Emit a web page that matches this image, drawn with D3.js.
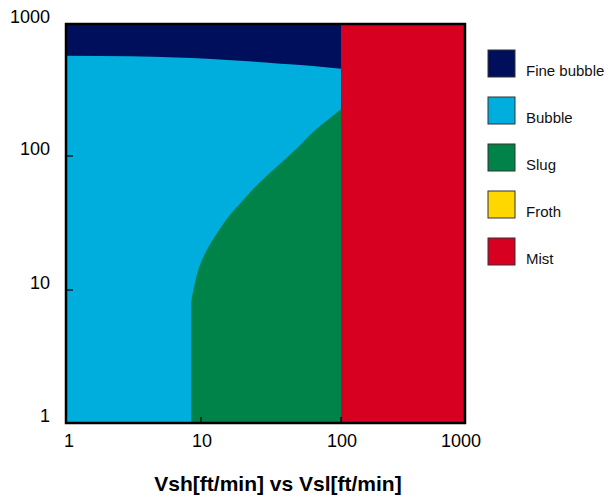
<!DOCTYPE html>
<html>
<head>
<meta charset="utf-8">
<script src="https://cdn.jsdelivr.net/npm/d3@7"></script>
<style>
  html, body { margin: 0; padding: 0; background: #fff; }
  svg { display: block; font-family: "Liberation Sans", Arial, sans-serif; }
</style>
</head>
<body>
<svg id="chart" width="609" height="500"></svg>
<script>
// Flow regime map: superficial gas velocity (Vsh) vs superficial liquid velocity (Vsl)
const xTickValues = [1, 10, 100, 1000];
const yTickValues = [1, 10, 100, 1000];
const regimeNames = ["Fine bubble", "Bubble", "Slug", "Froth", "Mist"];

// Fine bubble / bubble transition (Vsl, Vsh)
const fineBubbleVsl = [1, 3, 6.6, 11, 19, 35, 60, 100];
const fineBubbleVsh = [575, 570, 558, 546, 527, 503, 483, 458];

// Bubble / slug transition (Vsl, Vsh); vertical below the first point
const slugVsl = [8.45, 8.6, 9.0, 9.7, 11.0, 13.0, 15.7, 20.0, 25.9, 34.7, 46.9, 61.8, 85.9, 100];
const slugVsh = [8.0, 9.0, 11.2, 14.9, 19.9, 26.5, 35.2, 47, 62.7, 83.2, 111, 149, 199, 226];

// Bubble region spans Vsl 1..100, mist Vsl 100..1000
const bubbleVsl = [1, 100];
const mistVsl = [100, 1000];
const vshRange = [1, 1000];

const regimeColors = {
  "Fine bubble": "#000f5c",
  "Bubble": "#00aede",
  "Slug": "#008348",
  "Froth": "#ffd700",
  "Mist": "#d80021"
};

const svg = d3.select("#chart");

const x = d3.scaleLog().domain([1, 10, 100, 1000]).range([66, 201, 341, 465]);
const y = d3.scaleLog().domain([1, 10, 100, 1000]).range([423, 290, 156, 24]);

svg.append("clipPath").attr("id", "plotClip")
  .append("rect")
  .attr("x", x(1)).attr("y", y(1000))
  .attr("width", x(1000) - x(1)).attr("height", y(1) - y(1000));

const plot = svg.append("g").attr("clip-path", "url(#plotClip)");

// Bubble background
plot.append("rect")
  .attr("x", x(bubbleVsl[0])).attr("y", y(vshRange[1]))
  .attr("width", x(bubbleVsl[1]) - x(bubbleVsl[0]))
  .attr("height", y(vshRange[0]) - y(vshRange[1]))
  .attr("fill", regimeColors["Bubble"]);

// Fine bubble: above its transition line
const fineArea = d3.area()
  .x(d => x(d[0]))
  .y0(() => y(vshRange[1]))
  .y1(d => y(d[1]))
  .curve(d3.curveMonotoneX);
plot.append("path")
  .datum(d3.zip(fineBubbleVsl, fineBubbleVsh))
  .attr("d", fineArea)
  .attr("fill", regimeColors["Fine bubble"]);

// Slug: below its transition line
const slugArea = d3.area()
  .x(d => x(d[0]))
  .y0(() => y(vshRange[0]))
  .y1(d => y(d[1]))
  .curve(d3.curveCatmullRom.alpha(0.5));
plot.append("path")
  .datum(d3.zip(slugVsl, slugVsh))
  .attr("d", slugArea)
  .attr("fill", regimeColors["Slug"]);

// Mist
plot.append("rect")
  .attr("x", x(mistVsl[0])).attr("y", y(vshRange[1]))
  .attr("width", x(mistVsl[1]) - x(mistVsl[0]))
  .attr("height", y(vshRange[0]) - y(vshRange[1]))
  .attr("fill", regimeColors["Mist"]);

// Inner tick marks
const innerX = xTickValues.filter(v => v > 1 && v < 1000);
const innerY = yTickValues.filter(v => v > 1 && v < 1000);
svg.append("g").selectAll("line").data(innerX).join("line")
  .attr("x1", d => x(d)).attr("x2", d => x(d))
  .attr("y1", y(1)).attr("y2", y(1) - 6)
  .attr("stroke", "#000").attr("stroke-width", 1.2);
svg.append("g").selectAll("line").data(innerY).join("line")
  .attr("y1", d => y(d)).attr("y2", d => y(d))
  .attr("x1", x(1)).attr("x2", x(1) + 7)
  .attr("stroke", "#000").attr("stroke-width", 1.2);

// Frame
svg.append("rect")
  .attr("x", x(1)).attr("y", y(1000))
  .attr("width", x(1000) - x(1)).attr("height", y(1) - y(1000))
  .attr("fill", "none").attr("stroke", "#000").attr("stroke-width", 2.5);

// Tick labels
const fmt = d3.format("d");
const xLabelShift = {1: 3, 1000: -4};
svg.append("g").selectAll("text").data(xTickValues).join("text")
  .attr("x", d => x(d) + (xLabelShift[d] || 1))
  .attr("y", 447)
  .attr("text-anchor", "middle")
  .attr("font-size", 18)
  .attr("fill", "#000")
  .text(fmt);
svg.append("g").selectAll("text").data(yTickValues).join("text")
  .attr("x", 50)
  .attr("y", d => y(d) - 1)
  .attr("text-anchor", "end")
  .attr("font-size", 18)
  .attr("fill", "#000")
  .text(fmt);

// Axis title
svg.append("text")
  .attr("x", 278).attr("y", 491)
  .attr("text-anchor", "middle")
  .attr("font-size", 21)
  .attr("font-weight", "bold")
  .attr("fill", "#000")
  .text("Vsh[ft/min] vs Vsl[ft/min]");

// Legend
const legend = svg.append("g").selectAll("g").data(regimeNames).join("g")
  .attr("transform", (d, i) => `translate(488, ${50 + i * 47})`);
legend.append("rect")
  .attr("width", 27).attr("height", 27)
  .attr("fill", d => regimeColors[d])
  .attr("stroke", "#333").attr("stroke-width", 1);
legend.append("text")
  .attr("x", 38).attr("y", 26)
  .attr("font-size", 15)
  .attr("fill", "#111")
  .text(d => d);
</script>
</body>
</html>
